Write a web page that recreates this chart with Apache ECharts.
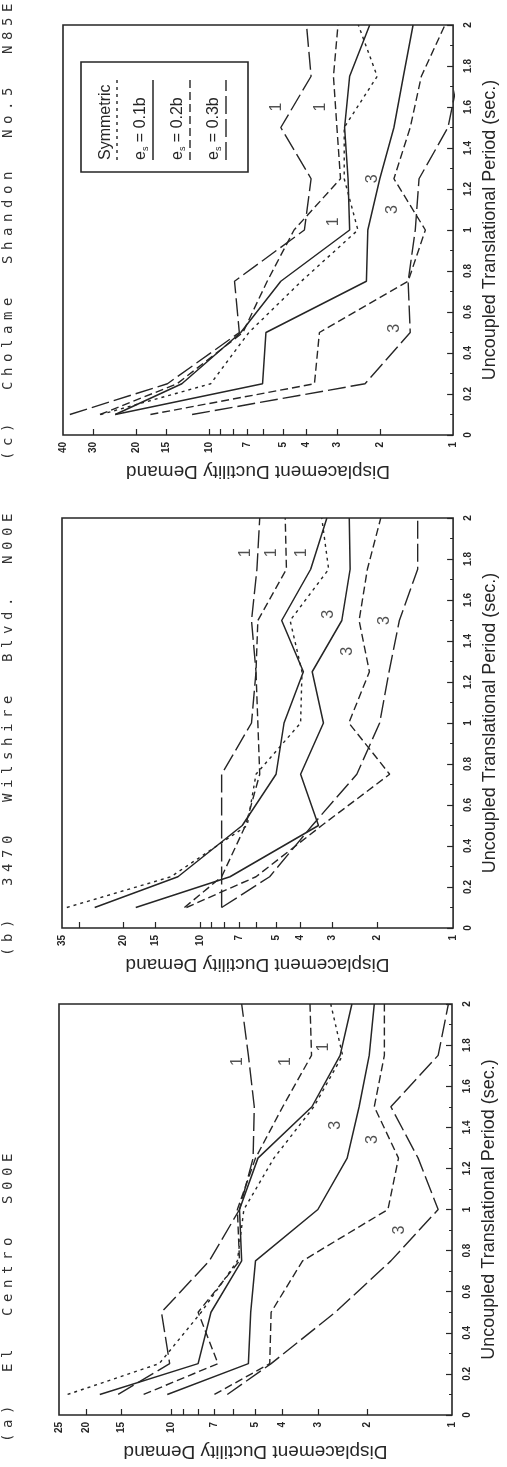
<!DOCTYPE html>
<html>
<head>
<meta charset="utf-8">
<script src="https://cdn.jsdelivr.net/npm/echarts@6/dist/echarts.min.js"></script>
<style>
  html, body { margin: 0; padding: 0; background: #fff; }
  #chart { width: 507px; height: 1467px; }
</style>
</head>
<body>
<div id="chart"></div>
<script>
// periods (sec.) at which the demands are plotted
const periods = [0.1, 0.25, 0.5, 0.75, 1, 1.25, 1.5, 1.75, 2];

// (c) Cholame Shandon No.5 N85E
const cSym   = [28, 9.9, 6.9, 4.2, 2.46, 2.8, 2.8, 2.05, 2.45];
const cE1El1 = [24.4, 13, 7.45, 5.1, 2.66, 2.7, 2.79, 2.66, 2.2];
const cE1El3 = [24.4, 6.06, 5.87, 2.27, 2.24, 2.0, 1.75, 1.6, 1.46];
const cE2El1 = [28.2, 13.6, 7.3, 5.8, 4.5, 2.9, 3.0, 3.1, 2.97];
const cE2El3 = [17.5, 3.71, 3.54, 1.53, 1.3, 1.75, 1.5, 1.35, 1.08];
const cE3El1 = [37.5, 14.9, 7.55, 7.9, 4.08, 3.83, 5.1, 3.83, 4.0];
const cE3El3 = [11.8, 2.3, 1.5, 1.53, 1.43, 1.38, 1.05, 0.95, 0.95];

// (b) 3470 Wilshire Blvd. N00E
const bSym   = [33.5, 13, 6.5, 6.0, 4.0, 3.95, 4.4, 3.1, 3.3];
const bE1El1 = [26, 12.2, 6.8, 5.0, 4.65, 3.9, 4.75, 3.65, 3.15];
const bE1El3 = [17.9, 7.6, 3.4, 4.0, 3.25, 3.6, 2.75, 2.55, 2.57];
const bE2El1 = [11.5, 8.2, 6.6, 5.8, 5.9, 6.0, 5.9, 4.55, 4.6];
const bE2El3 = [11.3, 6.0, 3.3, 1.78, 2.58, 2.14, 2.35, 2.18, 1.93];
const bE3El1 = [8.2, 8.2, 8.2, 8.2, 6.25, 6.0, 6.25, 5.95, 5.8];
const bE3El3 = [8.2, 5.3, 3.6, 2.4, 1.95, 1.79, 1.63, 1.38, 1.38];

// (a) El Centro S00E
const aSym   = [23.3, 11, 7.8, 5.8, 5.5, 4.3, 3.1, 2.45, 2.7];
const aE1El1 = [17.9, 8.0, 7.2, 5.6, 5.7, 4.9, 3.15, 2.5, 2.27];
const aE1El3 = [10.3, 5.3, 5.2, 5.0, 3.0, 2.36, 2.14, 1.97, 1.89];
const aE2El1 = [12.5, 6.8, 8.0, 5.7, 5.8, 5.0, 4.0, 3.16, 3.2];
const aE2El3 = [7.0, 4.45, 4.4, 3.4, 1.69, 1.55, 1.89, 1.74, 1.74];
const aE3El1 = [15.4, 10.1, 10.8, 7.3, 5.7, 5.1, 5.05, 5.3, 5.6];
const aE3El3 = [6.3, 4.4, 2.6, 1.65, 1.12, 1.32, 1.65, 1.12, 1.03];

// curve markers "1" / "3": [text, ductility, period]
const cMarks = [['1', 5.3, 1.6], ['1', 3.5, 1.6], ['1', 3.1, 1.04], ['3', 2.14, 1.25], ['3', 1.77, 1.1], ['3', 1.74, 0.52]];
const bMarks = [['1', 6.6, 1.83], ['1', 5.2, 1.83], ['1', 3.95, 1.83], ['3', 3.1, 1.53], ['3', 2.6, 1.35], ['3', 1.87, 1.5]];
const aMarks = [['1', 5.8, 1.72], ['1', 3.9, 1.72], ['1', 2.87, 1.79], ['3', 2.6, 1.41], ['3', 1.92, 1.34], ['3', 1.54, 0.9]];

// ductility axis ticks
const ductTicks = [30, 20, 15, 10, 9, 8, 7, 6, 5, 4, 3, 2];
const cLabels = [40, 30, 20, 15, 10, 7, 5, 4, 3, 2, 1];
const bLabels = [35, 20, 15, 10, 7, 5, 4, 3, 2, 1];
const aLabels = [25, 20, 15, 10, 7, 5, 4, 3, 2, 1];

const titles = ['(c)  Cholame  Shandon  No.5  N85E', '(b)  3470  Wilshire  Blvd.  N00E', '(a)  El  Centro  S00E'];

const INK = '#262626';
const styles = {
  sym: { type: [3, 4], width: 1.4 },
  e1: { type: 'solid', width: 1.5 },
  e2: { type: [8, 4], width: 1.4 },
  e3: { type: [18, 5], width: 1.4 }
};

const panels = [
  { grid: { left: 63, top: 25, width: 393, height: 410 }, max: 40, labels: cLabels, marks: cMarks,
    curves: [['sym', cSym], ['e1', cE1El1], ['e1', cE1El3], ['e2', cE2El1], ['e2', cE2El3], ['e3', cE3El1], ['e3', cE3El3]] },
  { grid: { left: 62, top: 518, width: 393, height: 410 }, max: 35, labels: bLabels, marks: bMarks,
    curves: [['sym', bSym], ['e1', bE1El1], ['e1', bE1El3], ['e2', bE2El1], ['e2', bE2El3], ['e3', bE3El1], ['e3', bE3El3]] },
  { grid: { left: 59, top: 1004, width: 393, height: 411 }, max: 25, labels: aLabels, marks: aMarks,
    curves: [['sym', aSym], ['e1', aE1El1], ['e1', aE1El3], ['e2', aE2El1], ['e2', aE2El3], ['e3', aE3El1], ['e3', aE3El3]] }
];

const lg = Math.log10;
const labelFont = { fontFamily: 'Liberation Sans', fontSize: 10, fontWeight: 'bold', color: INK };

const grids = [], xAxes = [], yAxes = [], series = [];
panels.forEach(function (p, i) {
  grids.push(Object.assign({ show: true, borderColor: INK, borderWidth: 1.6, containLabel: false }, p.grid));
  xAxes.push({
    gridIndex: i, type: 'value', position: 'bottom', inverse: true,
    min: 0, max: lg(p.max),
    axisLine: { show: false },
    splitLine: { show: false },
    axisTick: { show: true, inside: true, length: 6, lineStyle: { color: INK, width: 1.2 },
      customValues: ductTicks.filter(function (v) { return v < p.max; }).map(lg) },
    axisLabel: Object.assign({ rotate: 90, margin: 7, customValues: p.labels.map(lg),
      formatter: function (v) { return String(Math.round(Math.pow(10, v))); } }, labelFont),
    name: 'Displacement Ductility Demand', nameLocation: 'middle', nameGap: 27, nameRotate: 180,
    nameTextStyle: { fontFamily: 'Liberation Sans', fontSize: 19, color: INK }
  });
  yAxes.push({
    gridIndex: i, type: 'value', position: 'right',
    min: 0, max: 2, interval: 0.2,
    axisLine: { show: false },
    splitLine: { show: false },
    axisTick: { show: true, inside: true, length: 6, lineStyle: { color: INK, width: 1.2 } },
    minorTick: { show: true, splitNumber: 2, length: 3, lineStyle: { color: INK } },
    axisLabel: Object.assign({ rotate: 90, margin: 10 }, labelFont),
    name: 'Uncoupled Translational Period (sec.)', nameLocation: 'middle', nameGap: 25, nameRotate: 90,
    nameTextStyle: { fontFamily: 'Liberation Sans', fontSize: 18, color: INK }
  });
  p.curves.forEach(function (c) {
    series.push({
      type: 'line', xAxisIndex: i, yAxisIndex: i,
      showSymbol: false, symbol: 'none', clip: true,
      lineStyle: { color: INK, width: styles[c[0]].width, type: styles[c[0]].type },
      data: periods.map(function (t, k) { return [lg(c[1][k]), t]; })
    });
  });
  series.push({
    type: 'scatter', xAxisIndex: i, yAxisIndex: i, symbolSize: 0,
    label: { show: true, position: 'inside', rotate: 90, fontFamily: 'Liberation Sans', fontSize: 16, color: INK,
      formatter: function (q) { return q.value[2]; } },
    data: p.marks.map(function (m) { return [lg(m[1]), m[2], m[0]]; })
  });
});

// vertical titles along the left edge, letter-spaced typewriter style
function spacedTitle(text, x, yStart, step) {
  const els = [];
  for (let k = 0; k < text.length; k++) {
    if (text[k] === ' ') continue;
    els.push({
      type: 'text', x: x, y: yStart - k * step, rotation: Math.PI / 2,
      style: { text: text[k], font: '14px "DejaVu Sans Mono"', fill: '#333',
        textAlign: 'left', textVerticalAlign: 'middle', align: 'left', verticalAlign: 'middle' }
    });
  }
  return els;
}

const graphics = []
  .concat(spacedTitle(titles[0], 8, 460, 14))
  .concat(spacedTitle(titles[1], 8, 956, 14))
  .concat(spacedTitle(titles[2], 8, 1442, 14));

// legend box of panel (c)
const legendItems = [
  { text: 'Symmetric', style: 'sym', tx: 106, lx: 117 },
  { text: 'e{s|s} = 0.1b', style: 'e1', tx: 141, lx: 153 },
  { text: 'e{s|s} = 0.2b', style: 'e2', tx: 178, lx: 190 },
  { text: 'e{s|s} = 0.3b', style: 'e3', tx: 214, lx: 226 }
];
graphics.push({
  type: 'rect', shape: { x: 81, y: 62, width: 167, height: 110 },
  style: { fill: '#fff', stroke: INK, lineWidth: 1.6 }, z: 10
});
legendItems.forEach(function (it) {
  graphics.push({
    type: 'text', x: it.tx, y: 160, rotation: Math.PI / 2, z: 11,
    style: { text: it.text, font: '16px "Liberation Sans"', fill: INK,
      textAlign: 'left', textVerticalAlign: 'middle', align: 'left', verticalAlign: 'middle',
      rich: { s: { font: '9px "Liberation Sans"', fill: INK, padding: [9, 0, 0, 0] } } }
  });
  const st = styles[it.style];
  graphics.push({
    type: 'line', z: 11, shape: { x1: it.lx, y1: 160, x2: it.lx, y2: 80 },
    style: { stroke: INK, lineWidth: st.width, lineDash: Array.isArray(st.type) ? st.type : null }
  });
});

const chart = echarts.init(document.getElementById('chart'));
chart.setOption({
  animation: false,
  backgroundColor: '#fff',
  grid: grids,
  xAxis: xAxes,
  yAxis: yAxes,
  series: series,
  graphic: graphics
});
</script>
</body>
</html>
